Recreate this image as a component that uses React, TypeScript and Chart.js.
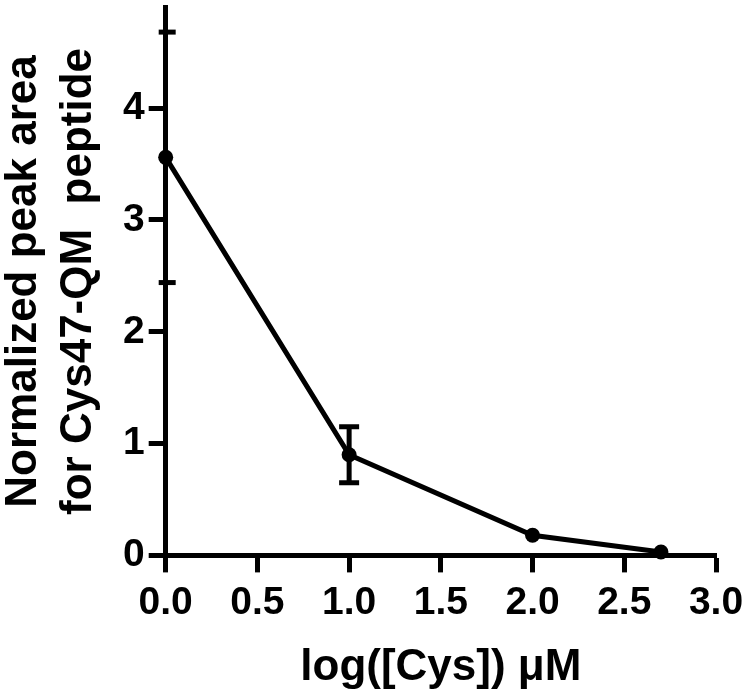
import React, { useEffect, useRef } from "react";
import { Chart, registerables } from "chart.js";

Chart.register(...registerables);

const xValues = [0, 1, 2, 2.7];
const yMeans = [3.56, 0.9, 0.18, 0.03];
const yErrors = [0, 0.25, 0, 0];
const extraYTicks = [2.44, 4.68];
const xTitle = "log([Cys]) \u03bcM";
const yTitle = ["Normalized peak area", "for Cys47-QM  peptide"];

const FONT = "'Liberation Sans', Arial, Helvetica, sans-serif";

const decorPlugin = {
  id: "decor",
  afterDatasetsDraw(chart: any) {
    const { ctx, scales } = chart;
    const xs = scales.x;
    const ys = scales.y;
    ctx.save();
    ctx.strokeStyle = "#000";
    ctx.lineWidth = 5;
    ctx.lineCap = "butt";
    // error bars
    xValues.forEach((xv, i) => {
      const e = yErrors[i];
      if (!e) return;
      const px = xs.getPixelForValue(xv);
      const top = ys.getPixelForValue(yMeans[i] + e);
      const bot = ys.getPixelForValue(yMeans[i] - e);
      ctx.beginPath();
      ctx.moveTo(px, top);
      ctx.lineTo(px, bot);
      ctx.moveTo(px - 10, top);
      ctx.lineTo(px + 10, top);
      ctx.moveTo(px - 10, bot);
      ctx.lineTo(px + 10, bot);
      ctx.stroke();
    });
    // extra crossing ticks on y axis
    const ax = xs.getPixelForValue(0);
    extraYTicks.forEach((v) => {
      const py = ys.getPixelForValue(v);
      ctx.beginPath();
      ctx.moveTo(ax - 7, py);
      ctx.lineTo(ax + 10, py);
      ctx.stroke();
    });
    ctx.restore();
  },
};

export default function App() {
  const ref = useRef<HTMLCanvasElement>(null);
  useEffect(() => {
    document.body.style.margin = "0";
    const chart = new Chart(ref.current!, {
      type: "line",
      data: {
        datasets: [
          {
            data: xValues.map((x, i) => ({ x, y: yMeans[i] })),
            borderColor: "#000",
            backgroundColor: "#000",
            borderWidth: 5,
            pointRadius: 7.5,
            pointBackgroundColor: "#000",
            pointBorderWidth: 0,
            tension: 0,
            clip: false as any,
          },
        ],
      },
      options: {
        animation: false,
        responsive: false,
        events: [],
        layout: { padding: { top: 7, right: 34, left: 0, bottom: 0 } },
        plugins: { legend: { display: false }, tooltip: { enabled: false } },
        scales: {
          x: {
            type: "linear",
            min: 0,
            max: 3,
            afterFit: (scale: any) => {
              scale.paddingLeft = 0;
              scale.paddingRight = 0;
            },
            border: { display: true, width: 5, color: "#000" },
            grid: {
              drawOnChartArea: false,
              drawTicks: true,
              tickLength: 17,
              tickWidth: 5,
              tickColor: "#000",
            },
            ticks: {
              stepSize: 0.5,
              padding: 7,
              color: "#000",
              font: { family: FONT, size: 39, weight: "bold" },
              callback: (v: any) => Number(v).toFixed(1),
              maxRotation: 0,
            },
            title: {
              display: true,
              text: xTitle,
              color: "#000",
              font: { family: FONT, size: 44, weight: "bold", lineHeight: 1.2 },
              padding: { top: 8, bottom: 4 },
            },
          },
          y: {
            type: "linear",
            min: 0,
            max: 4.9,
            afterBuildTicks: (scale: any) => {
              scale.ticks = scale.ticks.filter((t: any) => Number.isInteger(t.value));
            },
            afterFit: (scale: any) => {
              scale.paddingTop = 0;
              scale.paddingBottom = 0;
            },
            border: { display: true, width: 5, color: "#000" },
            grid: {
              drawOnChartArea: false,
              drawTicks: true,
              tickLength: 17,
              tickWidth: 5,
              tickColor: "#000",
            },
            ticks: {
              stepSize: 1,
              padding: 4,
              color: "#000",
              font: { family: FONT, size: 39, weight: "bold" },
            },
            title: {
              display: true,
              text: yTitle,
              color: "#000",
              font: { family: FONT, size: 44, weight: "bold", lineHeight: 1.25 },
              padding: { top: -4, bottom: 13 },
            },
          },
        },
      },
      plugins: [decorPlugin],
    });
    return () => chart.destroy();
  }, []);
  return (
    <div style={{ position: "absolute", left: 0, top: 0, width: 750, height: 698 }}>
      <canvas ref={ref} width={750} height={698} style={{ width: 750, height: 698 }} />
    </div>
  );
}
